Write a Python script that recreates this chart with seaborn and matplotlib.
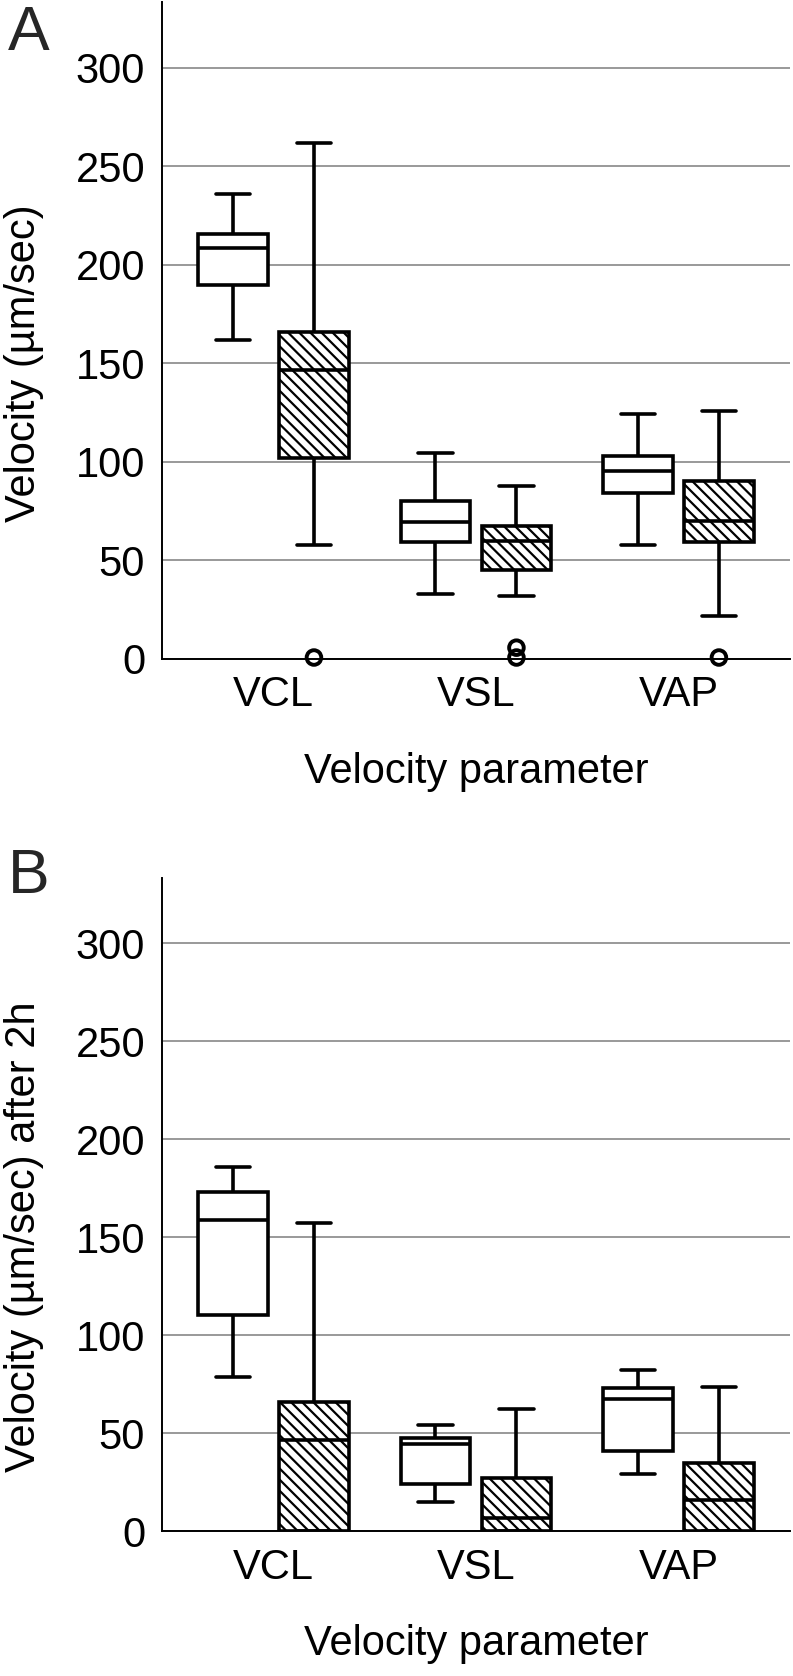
import pandas as pd
import seaborn as sns
import matplotlib
matplotlib.use("Agg")
import matplotlib.pyplot as plt

params = ["VCL", "VSL", "VAP"]
groups = ["group 1", "group 2"]

# five-number summaries (whisker low, Q1, median, Q3, whisker high) per parameter
box_a_open = [[161.9, 189.8, 208.6, 215.4, 235.8],
              [32.9, 59.0, 69.2, 80.1, 104.3],
              [57.8, 83.9, 95.2, 102.7, 124.1]]
box_a_hatch = [[57.4, 101.6, 146.3, 166.0, 261.9],
               [31.8, 44.9, 59.7, 67.3, 87.8],
               [21.6, 59.0, 69.9, 90.1, 125.9]]
out_a_param = ["VCL", "VSL", "VSL", "VAP"]
out_a_value = [0.5, 0.5, 5.5, 0.5]

box_b_open = [[78.8, 110.2, 158.9, 173.0, 185.7],
              [14.8, 23.9, 44.4, 47.3, 54.2],
              [29.1, 41.0, 67.4, 73.1, 82.2]]
box_b_hatch = [[0.0, 0.0, 46.7, 65.6, 157.1],
               [0.0, 0.0, 6.4, 26.9, 62.1],
               [0.0, 0.0, 15.9, 34.8, 73.5]]
out_b_param = []
out_b_value = []


def to_long(open_boxes, hatch_boxes):
    rows = []
    for p, vals in zip(params, open_boxes):
        rows += [(p, groups[0], v) for v in vals]
    for p, vals in zip(params, hatch_boxes):
        rows += [(p, groups[1], v) for v in vals]
    return pd.DataFrame(rows, columns=["param", "group", "value"])


sns.set_theme(style="white")
plt.rcParams["font.family"] = "Liberation Sans"
plt.rcParams["hatch.linewidth"] = 1.6

fig = plt.figure(figsize=(7.93, 16.76), dpi=100)
ax_a = fig.add_axes([0.2039, 0.6071, 0.7923, 0.3915])
ax_b = fig.add_axes([0.2039, 0.0865, 0.7923, 0.3897])


def panel(ax, open_boxes, hatch_boxes, out_param, out_value, ylabel):
    df = to_long(open_boxes, hatch_boxes)
    sns.boxplot(data=df, x="param", y="value", hue="group", order=params,
                hue_order=groups, palette={g: "white" for g in groups},
                saturation=1, linecolor="black", linewidth=2.6, gap=0.14,
                whis=(0, 100), showfliers=False, legend=False, ax=ax)
    # hatch the right-hand box of every pair
    for patch in ax.patches:
        ext = patch.get_path().get_extents()
        xc = (ext.x0 + ext.x1) / 2
        if xc - round(xc) > 0.01:
            patch.set_hatch("\\\\\\")
            patch.set_edgecolor("black")
    if out_value:
        df_out = pd.DataFrame({"param": out_param,
                               "group": [groups[1]] * len(out_value),
                               "value": out_value})
        sns.stripplot(data=df_out, x="param", y="value", hue="group",
                      order=params, hue_order=groups, dodge=True, jitter=False,
                      size=10.5, linewidth=2.8, legend=False, ax=ax)
        for coll in list(ax.collections):
            if len(coll.get_offsets()) == 0:
                coll.remove()
                continue
            coll.set_facecolor("none")
            coll.set_edgecolor("black")
            coll.set_clip_on(False)
            coll.set_zorder(5)

    ax.set_xlim(-0.552, 2.551)
    ax.set_ylim(0, 333.3)
    ax.set_yticks(range(0, 301, 50))
    ax.yaxis.grid(True, color="#999999", linewidth=1.4)
    ax.xaxis.grid(False)
    ax.set_axisbelow(True)
    ax.tick_params(axis="both", length=0, labelsize=30, colors="black")
    ax.tick_params(axis="y", pad=12)
    ax.tick_params(axis="x", pad=12)
    for side in ["top", "right"]:
        ax.spines[side].set_visible(False)
    for side in ["left", "bottom"]:
        ax.spines[side].set_color("black")
        ax.spines[side].set_linewidth(1.4)
        ax.spines[side].set_zorder(6)
    ax.set_xlabel("Velocity parameter", fontsize=30, color="black")
    ax.set_ylabel(ylabel, fontsize=30, color="black")
    ax.xaxis.set_label_coords(0.5, -0.143)
    ax.yaxis.set_label_coords(-0.187, 0.45)


panel(ax_a, box_a_open, box_a_hatch, out_a_param, out_a_value,
      "Velocity (µm/sec)")
panel(ax_b, box_b_open, box_b_hatch, out_b_param, out_b_value,
      "Velocity (µm/sec) after 2h")

fig.text(8 / 793, 1 - 50 / 1676, "A", fontsize=45, va="baseline", ha="left")
fig.text(8 / 793, 1 - 893 / 1676, "B", fontsize=45, va="baseline", ha="left")

fig.savefig("out.png", dpi=100, facecolor="white")
